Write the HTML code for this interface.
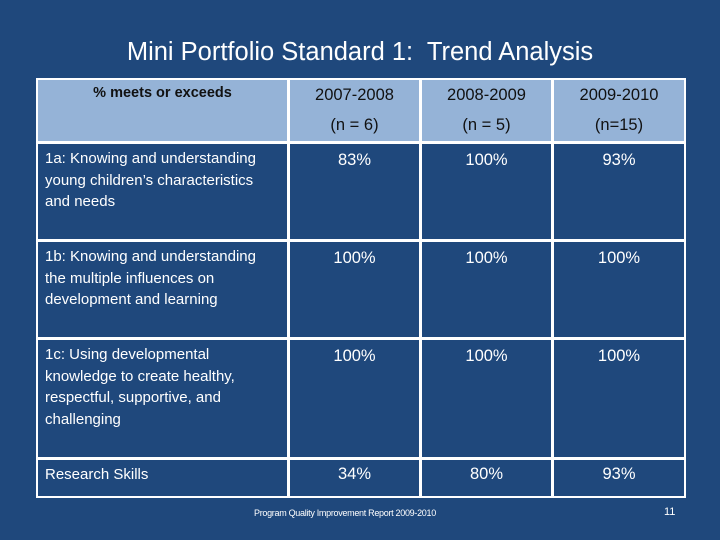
<!DOCTYPE html>
<html><head><meta charset="utf-8"><style>
body{margin:0;width:720px;height:540px;background:#1f487c;font-family:"Liberation Sans",sans-serif;position:relative;overflow:hidden}
.t{position:absolute;color:#fff}
.c{position:absolute;box-sizing:border-box;border:2px solid #fff;}
.h{background:#95b3d7;color:#111}
.lbl{font-size:15px;line-height:21.5px;padding:4px 14px 0 7px;color:#fff}
.val{font-size:16.5px;text-align:center;padding-top:7px;color:#fff}
.hv{font-size:16.5px;text-align:center;line-height:30px;padding-top:0px;color:#111}
</style></head><body>
<div class="t" style="left:0;width:720px;top:38px;text-align:center;font-size:25.5px;color:#fff">Mini Portfolio Standard 1:&nbsp; Trend Analysis</div>
<div>
<div class="c h" style="left:36px;top:78px;width:253px;height:65px;font-size:14.5px;font-weight:bold;text-align:center;padding-top:5px">% meets or exceeds</div>
<div class="c h hv" style="left:288px;top:78px;width:133px;height:65px">2007-2008<br>(n = 6)</div>
<div class="c h hv" style="left:420px;top:78px;width:133px;height:65px">2008-2009<br>(n = 5)</div>
<div class="c h hv" style="left:552px;top:78px;width:134px;height:65px">2009-2010<br>(n=15)</div>

<div class="c lbl" style="left:36px;top:142px;width:253px;height:99px">1a: Knowing and understanding young children’s characteristics and needs</div>
<div class="c val" style="left:288px;top:142px;width:133px;height:99px">83%</div>
<div class="c val" style="left:420px;top:142px;width:133px;height:99px">100%</div>
<div class="c val" style="left:552px;top:142px;width:134px;height:99px">93%</div>

<div class="c lbl" style="left:36px;top:240px;width:253px;height:99px">1b: Knowing and understanding the multiple influences on development and learning</div>
<div class="c val" style="left:288px;top:240px;width:133px;height:99px">100%</div>
<div class="c val" style="left:420px;top:240px;width:133px;height:99px">100%</div>
<div class="c val" style="left:552px;top:240px;width:134px;height:99px">100%</div>

<div class="c lbl" style="left:36px;top:338px;width:253px;height:121px">1c: Using developmental knowledge to create healthy, respectful, supportive, and challenging</div>
<div class="c val" style="left:288px;top:338px;width:133px;height:121px">100%</div>
<div class="c val" style="left:420px;top:338px;width:133px;height:121px">100%</div>
<div class="c val" style="left:552px;top:338px;width:134px;height:121px">100%</div>

<div class="c lbl" style="left:36px;top:458px;width:253px;height:40px">Research Skills</div>
<div class="c val" style="left:288px;top:458px;width:133px;height:40px;padding-top:5px">34%</div>
<div class="c val" style="left:420px;top:458px;width:133px;height:40px;padding-top:5px">80%</div>
<div class="c val" style="left:552px;top:458px;width:134px;height:40px;padding-top:5px">93%</div>
</div>
<div class="t" style="left:254px;top:508px;font-size:9px;letter-spacing:-0.3px">Program Quality Improvement Report 2009-2010</div>
<div class="t" style="left:664px;top:506px;font-size:11px">11</div>
</body></html>
